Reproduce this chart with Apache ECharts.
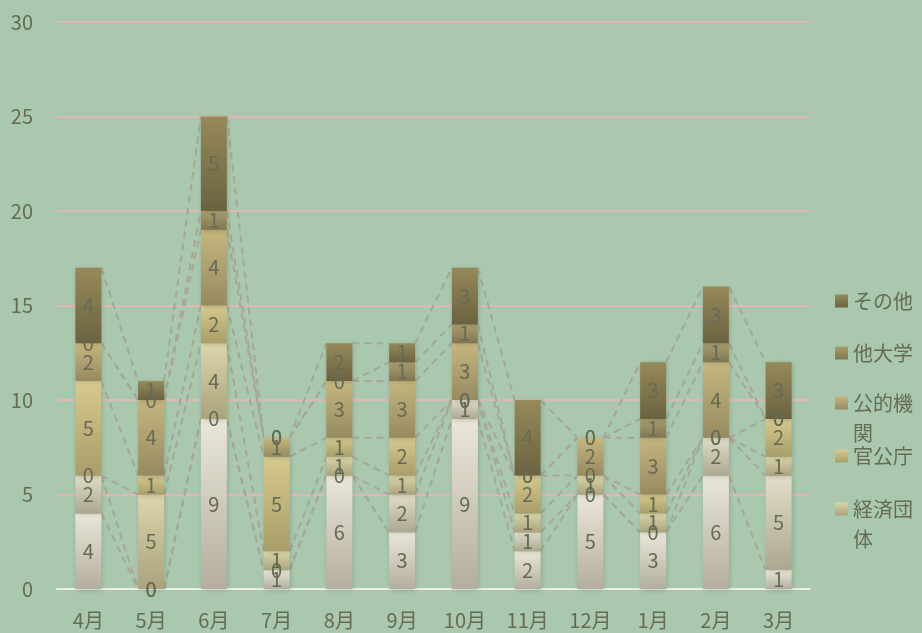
<!DOCTYPE html>
<html>
<head>
<meta charset="utf-8">
<script src="https://cdn.jsdelivr.net/npm/echarts@6/dist/echarts.min.js"></script>
<style>
  html, body { margin: 0; padding: 0; background: #a9c8ae; }
  #main { width: 922px; height: 633px; }
</style>
</head>
<body>
<div id="main"></div>
<script>
const months = ['4月', '5月', '6月', '7月', '8月', '9月', '10月', '11月', '12月', '1月', '2月', '3月']
const yTicks = [0, 5, 10, 15, 20, 25, 30]

// stack order, bottom to top
const seriesNames = ['企業', '個人', '経済団体', '官公庁', '公的機関', '他大学', 'その他']
const kigyo     = [4, 0, 9, 1, 6, 3, 9, 2, 5, 3, 6, 1]
const kojin     = [2, 0, 0, 0, 0, 2, 1, 1, 0, 0, 2, 5]
const keizai    = [0, 5, 4, 1, 1, 1, 0, 1, 1, 1, 0, 1]
const kankocho  = [5, 1, 2, 5, 1, 2, 0, 2, 0, 1, 0, 2]
const kotekikikan = [2, 4, 4, 1, 3, 3, 3, 0, 2, 3, 4, 0]
const tadaigaku = [0, 0, 1, 0, 0, 1, 1, 0, 0, 1, 1, 0]
const sonota    = [4, 1, 5, 0, 2, 1, 3, 4, 0, 3, 3, 3]
const seriesValues = [kigyo, kojin, keizai, kankocho, kotekikikan, tadaigaku, sonota]

// legend shows only these (top to bottom)
const legendNames = ['その他', '他大学', '公的機関', '官公庁', '経済団体']
const legendTops = [300, 352, 402, 455, 508]

const gradients = [
  ['#ebe7d8', '#b3ae9e'],
  ['#e2ddca', '#aca790'],
  ['#ddd5ab', '#aaa37b'],
  ['#d6ca8e', '#a99d69'],
  ['#c6b67e', '#968a60'],
  ['#aa9e6e', '#827652'],
  ['#968a5a', '#6b6240'],
]

const textColor = '#656b55'
const barWidth = 26

// cumulative tops for series lines
const tops = seriesValues.map((_, k) =>
  months.map((m, i) => seriesValues.slice(0, k + 1).reduce((s, arr) => s + arr[i], 0)))
const lineData = []
tops.forEach(t => {
  for (let i = 0; i < months.length - 1; i++) {
    lineData.push([i, t[i], t[i + 1]])
  }
})

const chart = echarts.init(document.getElementById('main'))

const barSeries = seriesNames.map((name, k) => ({
  name: name,
  type: 'bar',
  stack: 'total',
  barWidth: barWidth,
  data: seriesValues[k],
  itemStyle: {
    color: new echarts.graphic.LinearGradient(0, 0, 0, 1, [
      {offset: 0, color: gradients[k][0]},
      {offset: 1, color: gradients[k][1]}
    ]),
    shadowBlur: 5,
    shadowColor: 'rgba(40,60,40,0.25)',
    shadowOffsetX: 1,
    shadowOffsetY: 1
  },
  label: {
    show: true,
    position: 'inside',
    color: textColor,
    fontSize: 20,
    fontFamily: 'Noto Sans CJK JP'
  },
  z: 3
}))

// wrapped names get an empty first line so the icon sits on the first text line
const legends = legendNames.map((name, i) => {
  const wrapped = name.length > 3
  return {
    data: [name],
    left: 830,
    top: wrapped ? legendTops[i] - 49 : legendTops[i] - 19,
    icon: 'rect',
    itemWidth: 13,
    itemHeight: 13,
    itemGap: 0,
    selectedMode: false,
    formatter: n => n.length > 3 ? ' \n' + n.slice(0, 3) + '\n' + n.slice(3) : n,
    textStyle: {
      color: textColor,
      fontSize: 20,
      lineHeight: 30,
      fontFamily: 'Noto Sans CJK JP'
    }
  }
})

chart.setOption({
  backgroundColor: '#a9c8ae',
  animation: false,
  textStyle: {fontFamily: 'Noto Sans CJK JP'},
  grid: {left: 57, right: 112, top: 22, bottom: 44},
  legend: legends,
  xAxis: {
    type: 'category',
    data: months,
    axisTick: {show: false},
    axisLine: {lineStyle: {color: '#eceee4', width: 2}},
    axisLabel: {color: textColor, fontSize: 20, margin: 21}
  },
  yAxis: {
    type: 'value',
    min: yTicks[0],
    max: yTicks[yTicks.length - 1],
    interval: 5,
    axisLabel: {color: textColor, fontSize: 20, margin: 24},
    splitLine: {lineStyle: {color: '#e3b6b6', width: 2}}
  },
  series: barSeries.concat([{
    type: 'custom',
    name: 'series-lines',
    data: lineData,
    encode: {x: 0, y: [1, 2]},
    silent: true,
    z: 2,
    renderItem: (params, api) => {
      const i = api.value(0)
      const p1 = api.coord([i, api.value(1)])
      const p2 = api.coord([i + 1, api.value(2)])
      return {
        type: 'line',
        shape: {x1: p1[0] + barWidth / 2, y1: p1[1], x2: p2[0] - barWidth / 2, y2: p2[1]},
        style: {stroke: '#a6a797', lineWidth: 2, lineDash: [7, 5]}
      }
    }
  }])
})
</script>
</body>
</html>
